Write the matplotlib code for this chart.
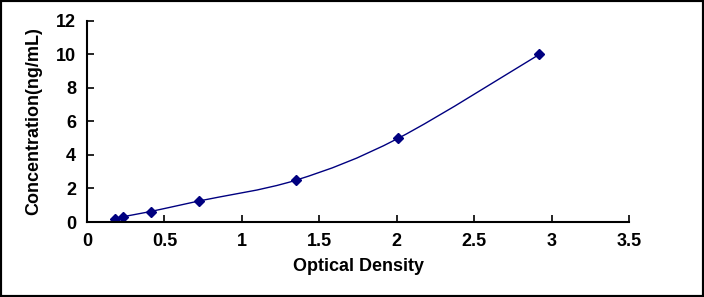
import matplotlib.pyplot as plt
from matplotlib.path import Path
from matplotlib.patches import PathPatch, Rectangle

# standard curve data
od = [0.18, 0.23, 0.41, 0.72, 1.35, 2.01, 2.92]
conc = [0.156, 0.312, 0.625, 1.25, 2.5, 5, 10]

x_ticks = [0, 0.5, 1, 1.5, 2, 2.5, 3, 3.5]
x_tick_labels = ['0', '0.5', '1', '1.5', '2', '2.5', '3', '3.5']
y_ticks = [0, 2, 4, 6, 8, 10, 12]

plt.rcParams['font.family'] = ['Liberation Sans', 'DejaVu Sans']
plt.rcParams['font.weight'] = 'bold'

fig = plt.figure(figsize=(7.04, 2.97), dpi=100)
ax = fig.add_axes([0.1236, 0.2525, 0.77, 0.677])

navy = '#000080'

# smooth connecting line (Excel-style smoothing through the points)
verts = [(od[0], conc[0])]
codes = [Path.MOVETO]
n = len(od)
for i in range(n - 1):
    p0 = (od[max(i - 1, 0)], conc[max(i - 1, 0)])
    p1 = (od[i], conc[i])
    p2 = (od[i + 1], conc[i + 1])
    p3 = (od[min(i + 2, n - 1)], conc[min(i + 2, n - 1)])
    c1 = (p1[0] + (p2[0] - p0[0]) / 6, p1[1] + (p2[1] - p0[1]) / 6)
    c2 = (p2[0] - (p3[0] - p1[0]) / 6, p2[1] - (p3[1] - p1[1]) / 6)
    verts += [c1, c2, p2]
    codes += [Path.CURVE4] * 3
ax.add_patch(PathPatch(Path(verts, codes), facecolor='none', edgecolor=navy, lw=1.0))

ax.plot(od, conc, linestyle='none', marker='D', markersize=5.2, color=navy)

ax.set_xlim(0, 3.5)
ax.set_ylim(0, 12)
ax.set_xticks(x_ticks)
ax.set_xticklabels(x_tick_labels)
ax.set_yticks(y_ticks)
ax.tick_params(direction='in', length=5, width=1.2, labelsize=13, pad=8)
for lab in ax.get_xticklabels() + ax.get_yticklabels():
    lab.set_fontweight('bold')
ax.spines['top'].set_visible(False)
ax.spines['right'].set_visible(False)
ax.spines['left'].set_linewidth(1.5)
ax.spines['bottom'].set_linewidth(1.5)

ax.set_xlabel('Optical Density', fontsize=13, fontweight='bold', labelpad=6)
ax.set_ylabel('Concentration(ng/mL)', fontsize=13, fontweight='bold', labelpad=10)

fig.patches.append(Rectangle((0, 0), 1, 1, transform=fig.transFigure,
                             fill=False, edgecolor='black', lw=3))

fig.savefig('out.png', dpi=100)
